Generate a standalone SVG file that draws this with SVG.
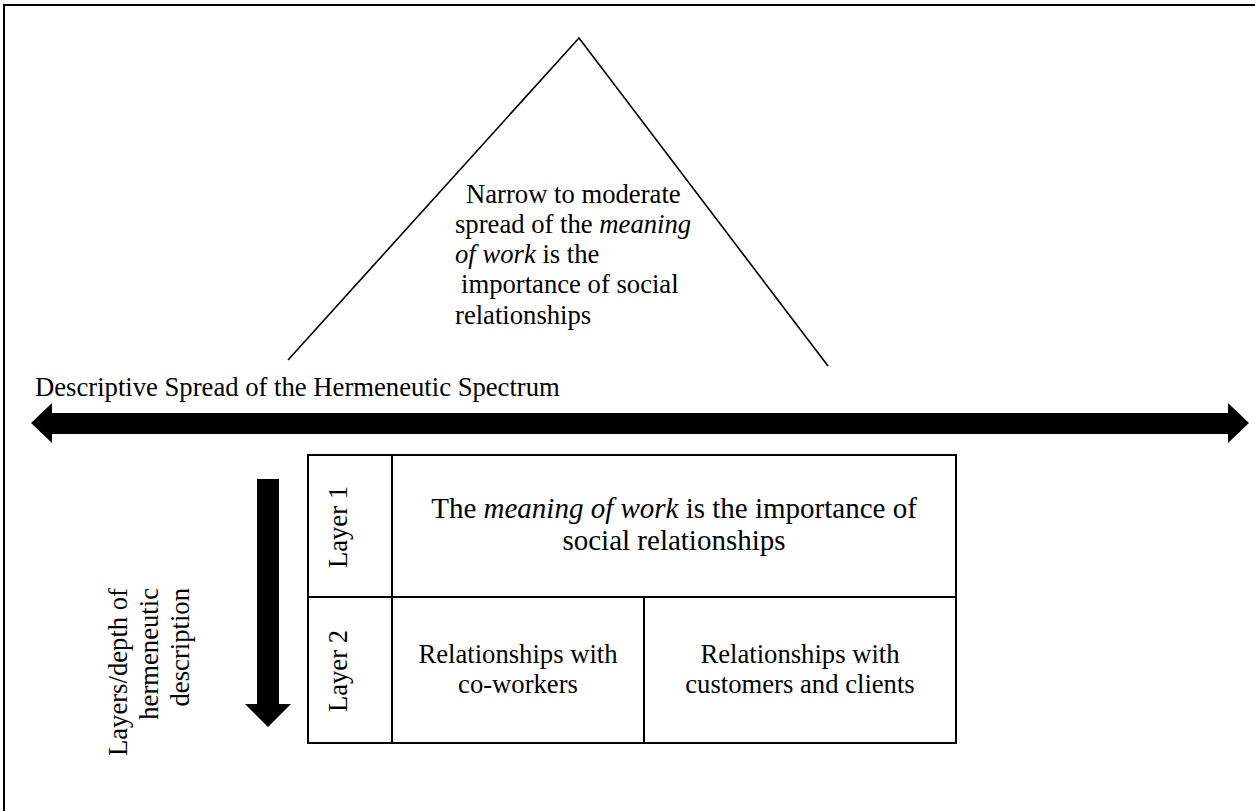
<svg xmlns="http://www.w3.org/2000/svg" width="1255" height="811" viewBox="0 0 1255 811">
<style>
text{font-family:"Liberation Serif","Times New Roman",serif;fill:#000}
.t26{font-size:26.67px}
.t29{font-size:29px}
.it{font-style:italic}
.ln{fill:none;stroke:#000}
</style>
<rect x="0" y="0" width="1255" height="811" fill="#fff"/>
<g id="frame"><rect class="ln" x="4" y="5" width="1400" height="1000" stroke-width="2"/></g>
<g id="triangle">
<polyline class="ln" points="288,360 579,38 828,366" stroke-width="1.6"/>
<text class="t26" x="466" y="203">Narrow to moderate</text>
<text class="t26" x="455" y="233">spread of the <tspan class="it">meaning</tspan></text>
<text class="t26" x="455" y="263"><tspan class="it">of work</tspan> is the</text>
<text class="t26" x="461" y="293">importance of social</text>
<text class="t26" x="455" y="324">relationships</text>
</g>
<g id="spectrum">
<text class="t26" x="35" y="396">Descriptive Spread of the Hermeneutic Spectrum</text>
</g>
<g id="connectors">
<polygon points="31,423 52,403 52,413 1228,413 1228,403 1249,423 1228,443 1228,434 52,434 52,443" fill="#000"/>
<polygon points="257,479 279,479 279,704 291,704 268,727 245,704 257,704" fill="#000"/>
</g>
<g id="depth-label">
<text class="t26" text-anchor="end" transform="translate(127,588) rotate(-90)">Layers/depth of</text>
<text class="t26" text-anchor="end" transform="translate(158,588) rotate(-90)">hermeneutic</text>
<text class="t26" text-anchor="end" transform="translate(189,588) rotate(-90)">description</text>
</g>
<g id="table">
<rect class="ln" x="308" y="455" width="648" height="288" stroke-width="2"/>
<line class="ln" x1="392" y1="455" x2="392" y2="743" stroke-width="2"/>
<line class="ln" x1="308" y1="597" x2="956" y2="597" stroke-width="2"/>
<line class="ln" x1="644" y1="597" x2="644" y2="743" stroke-width="2"/>
</g>
<g id="layer1">
<text class="t26" text-anchor="middle" transform="translate(347,527) rotate(-90)">Layer 1</text>
<text class="t29" text-anchor="middle" x="674" y="518">The <tspan class="it">meaning of work</tspan> is the importance of</text>
<text class="t29" text-anchor="middle" x="674" y="550">social relationships</text>
</g>
<g id="layer2">
<text class="t26" text-anchor="middle" transform="translate(347,671) rotate(-90)">Layer 2</text>
</g>
<g id="coworkers">
<text class="t26" text-anchor="middle" x="518" y="663">Relationships with</text>
<text class="t26" text-anchor="middle" x="518" y="693">co-workers</text>
</g>
<g id="customers">
<text class="t26" text-anchor="middle" x="800" y="663">Relationships with</text>
<text class="t26" text-anchor="middle" x="800" y="693">customers and clients</text>
</g>
</svg>
